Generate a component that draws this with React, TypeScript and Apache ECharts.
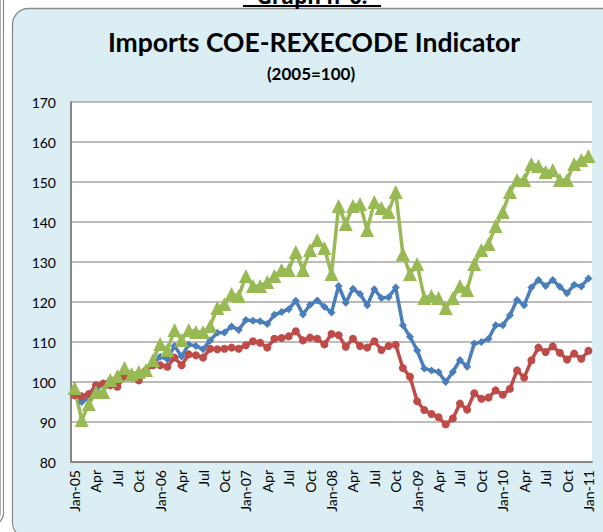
import React, { useEffect, useRef } from "react";
import * as echarts from "echarts";

const years = ["05", "06", "07", "08", "09", "10", "11"];
const monthTicks = ["Jan", "Apr", "Jul", "Oct"];
const yTicks = [80, 90, 100, 110, 120, 130, 140, 150, 160, 170];

const blueSeries = [
  97.5, 95, 96, 98, 99.5, 100.5, 101, 102, 101.5, 102, 103, 104.5,
  106.3, 105.7, 109, 106.4, 109.4, 109, 108.2, 110.4, 112.3, 112.4, 113.9, 113,
  115.5, 115.3, 115.2, 114.5, 116.8, 117.5, 118.2, 120.3, 116.9, 119.3, 120.4, 118.8,
  117.4, 124, 119.8, 123.3, 122, 119.2, 123.2, 121, 121.2, 123.6, 114.2, 111.3,
  107.9, 103.4, 102.9, 102.5, 100, 102.5, 105.5, 103.8, 109.6, 110, 110.8, 114.2,
  114.2, 116.7, 120.5, 119.2, 123.6, 125.5, 124, 125.5, 123.8, 122.2, 124.3, 123.9,
  125.9,
];

const redSeries = [
  96.7, 96.4, 97, 99.2, 99.6, 99.2, 98.8, 101.4, 101.2, 100.4, 102.9, 104.2,
  104.2, 103.8, 106.1, 104.2, 106.9, 106.7, 106.1, 108.3, 108.2, 108.3, 108.6, 108.3,
  109.2, 110.2, 109.8, 108.6, 110.8, 111, 111.4, 112.7, 110.4, 111.1, 110.8, 109.4,
  112, 111.7, 108.8, 110.8, 109, 108.6, 110.2, 108, 109, 109.3, 103.5, 101.3,
  95.2, 93, 92, 91.2, 89.4, 90.9, 94.6, 93.1, 97.2, 95.8, 96.1, 97.9,
  96.8, 98.3, 102.9, 101.1, 105.4, 108.6, 107.5, 108.9, 107.3, 105.6, 107.1, 105.8,
  107.8,
];

const greenSeries = [
  98.5, 90.5, 94.5, 97.5, 97.5, 100.5, 101.5, 103.5, 102, 102.5, 103, 105.5,
  109.5, 108, 113, 110.5, 113, 112.5, 112.5, 114, 118.5, 119.5, 122, 121.5,
  126.5, 124, 124, 125, 126.5, 128, 128, 132.5, 128, 133, 135.5, 133.5,
  127, 144, 139.5, 144, 144.5, 138, 145, 143.5, 142.5, 147.5, 132, 127,
  129.5, 121, 121.5, 121, 118.5, 121, 124, 123, 129.5, 133, 134.5, 139,
  142.5, 147.5, 150.5, 150.5, 154.5, 154, 152.5, 153, 150.5, 150.5, 154.5, 155.5,
  156.5,
];

const monthNames = ["Jan", "Feb", "Mar", "Apr", "May", "Jun", "Jul", "Aug", "Sep", "Oct", "Nov", "Dec"];

const categories: string[] = [];
years.forEach((yy, yi) => {
  monthNames.forEach((m, mi) => {
    if (yi < years.length - 1 || mi === 0) categories.push(m + "-" + yy);
  });
});

const FONT = "Lato, 'Open Sans', sans-serif";

export default function App() {
  const ref = useRef<HTMLDivElement>(null);
  useEffect(() => {
    if (!ref.current) return;
    const chart = echarts.init(ref.current, undefined, { renderer: "svg" });
    chart.setOption({
      animation: false,
      backgroundColor: "#ffffff",
      graphic: [
        {
          type: "rect",
          z: -10,
          shape: { x: -30, y: -20, width: 33.5, height: 545, r: 12 },
          style: { fill: "#ffffff", stroke: "#8c8c8c", lineWidth: 1.2 },
        },
        {
          type: "rect",
          z: -10,
          shape: { x: -30, y: -20, width: 30.5, height: 543, r: 10 },
          style: { fill: "none", stroke: "#b0b0b0", lineWidth: 1 },
        },
        {
          type: "rect",
          z: -9,
          shape: { x: 12.5, y: 8.5, width: 640, height: 530, r: 16 },
          style: { fill: "#DAEEF3", stroke: "#8c8c8c", lineWidth: 1.3 },
        },
        {
          type: "text",
          z: 10,
          x: 312,
          y: 6,
          style: {
            text: "Graph n°6:",
            font: "bold 21px 'Open Sans', sans-serif",
            fill: "#000000",
            align: "center",
            verticalAlign: "bottom",
          },
        },
        {
          type: "rect",
          z: 10,
          shape: { x: 243, y: 5, width: 138, height: 2 },
          style: { fill: "#000000" },
        },
        {
          type: "text",
          z: 10,
          x: 314,
          y: 42,
          style: {
            text: "Imports COE-REXECODE Indicator",
            font: "bold 26.5px " + FONT,
            fill: "#000000",
            align: "center",
            verticalAlign: "middle",
          },
        },
        {
          type: "text",
          z: 10,
          x: 311,
          y: 73,
          style: {
            text: "(2005=100)",
            font: "bold 17px " + FONT,
            fill: "#000000",
            align: "center",
            verticalAlign: "middle",
          },
        },
      ],
      grid: {
        left: 71,
        right: 11,
        top: 102,
        bottom: 70,
        show: true,
        backgroundColor: "#ffffff",
        borderWidth: 0,
      },
      xAxis: {
        type: "category",
        data: categories,
        boundaryGap: true,
        axisLine: { show: true, lineStyle: { color: "#868686", width: 2 } },
        axisTick: { show: false },
        axisLabel: {
          interval: 2,
          rotate: 90,
          margin: 8,
          color: "#000000",
          fontFamily: FONT,
          fontSize: 14,
          formatter: (v: string) => {
            const m = v.split("-")[0];
            if (m === "Jan") return v;
            return monthTicks.indexOf(m) >= 0 ? m : "";
          },
        },
        splitLine: { show: false },
      },
      yAxis: {
        type: "value",
        min: yTicks[0],
        max: yTicks[yTicks.length - 1],
        interval: 10,
        axisLine: { show: true, lineStyle: { color: "#868686", width: 2 } },
        axisTick: { show: false },
        axisLabel: {
          margin: 15,
          color: "#000000",
          fontFamily: FONT,
          fontSize: 14,
        },
        splitLine: { show: true, lineStyle: { color: "#a6a6a6", width: 1.5 } },
      },
      series: [
        {
          name: "Blue",
          type: "line",
          data: blueSeries,
          symbol: "diamond",
          symbolSize: 8,
          showAllSymbol: true,
          lineStyle: { color: "#4A7EBB", width: 3.5 },
          itemStyle: { color: "#4A7EBB" },
        },
        {
          name: "Red",
          type: "line",
          data: redSeries,
          symbol: "circle",
          symbolSize: 8,
          showAllSymbol: true,
          lineStyle: { color: "#BE4B48", width: 3.5 },
          itemStyle: { color: "#BE4B48" },
        },
        {
          name: "Green",
          type: "line",
          data: greenSeries,
          symbol: "triangle",
          symbolSize: 14,
          showAllSymbol: true,
          lineStyle: { color: "#98B954", width: 3.5 },
          itemStyle: { color: "#98B954" },
        },
      ],
    });
    return () => chart.dispose();
  }, []);
  return (
    <div
      ref={ref}
      style={{ position: "absolute", left: 0, top: 0, width: 603, height: 532 }}
    />
  );
}
